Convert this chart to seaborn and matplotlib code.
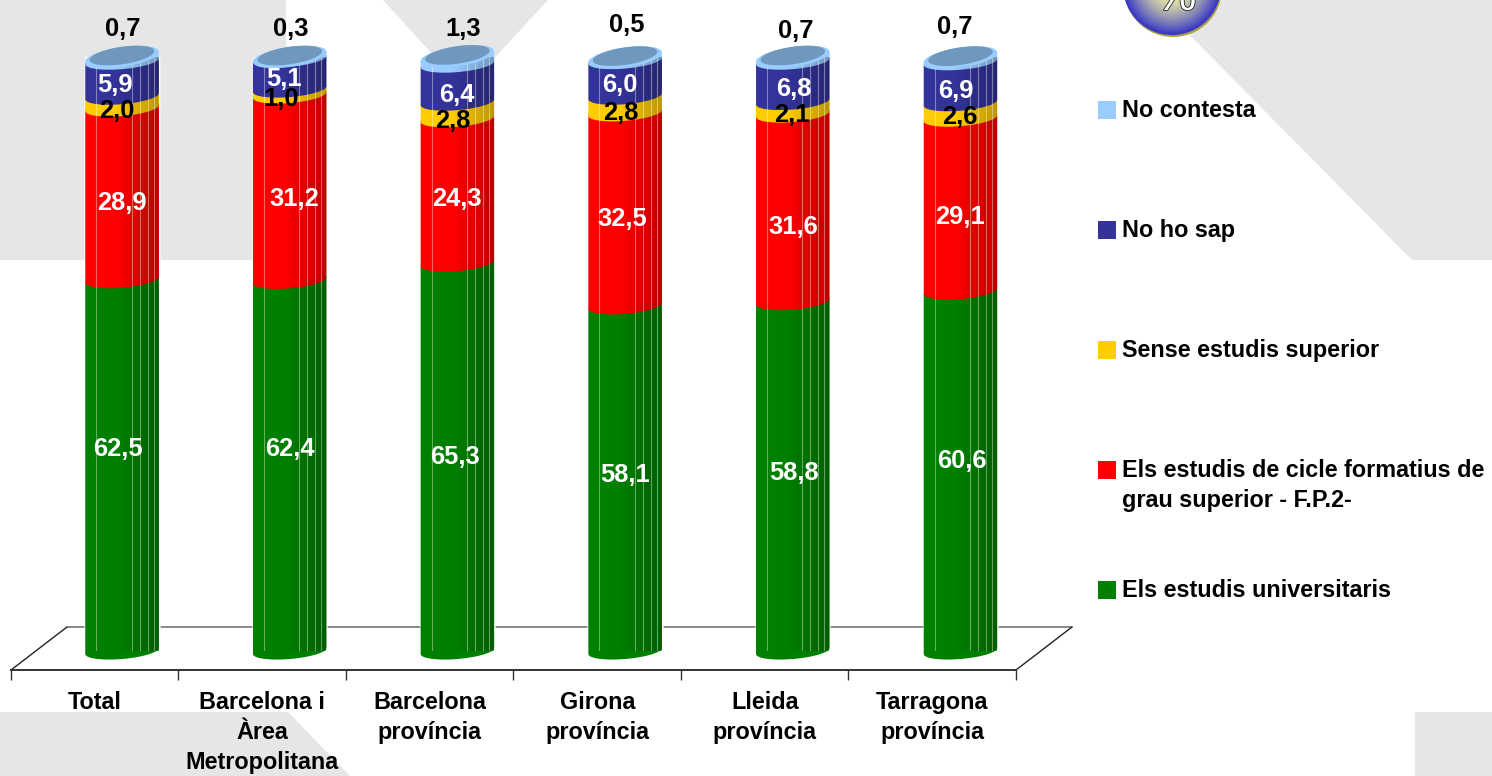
import numpy as np
import pandas as pd
import seaborn as sns
import matplotlib
matplotlib.use("Agg")
import matplotlib.pyplot as plt
import matplotlib.patheffects as pe
from matplotlib.patches import Polygon, Rectangle, Circle
from matplotlib.colors import to_rgb

categories = ["Total", "Barcelona i\nÀrea\nMetropolitana", "Barcelona\nprovíncia",
              "Girona\nprovíncia", "Lleida\nprovíncia", "Tarragona\nprovíncia"]
universitaris = [62.5, 62.4, 65.3, 58.1, 58.8, 60.6]
cicle_formatiu = [28.9, 31.2, 24.3, 32.5, 31.6, 29.1]
sense_estudis = [2.0, 1.0, 2.8, 2.8, 2.1, 2.6]
no_ho_sap = [5.9, 5.1, 6.4, 6.0, 6.8, 6.9]
no_contesta = [0.7, 0.3, 1.3, 0.5, 0.7, 0.7]
series_names = ["Els estudis universitaris",
                "Els estudis de cicle formatius de\ngrau superior - F.P.2-",
                "Sense estudis superior", "No ho sap", "No contesta"]
series_values = [universitaris, cicle_formatiu, sense_estudis, no_ho_sap, no_contesta]
series_colors = ["#008000", "#FF0000", "#FFCC00", "#333399", "#99CCFF"]

# hand-placed data label centres in the original (pixels)
label_xy = [
    [(118, 447), (290, 447), (455, 455), (625, 472), (794, 471), (962, 459)],
    [(122, 201), (294, 196), (457, 197), (622, 216), (793, 224), (960, 214)],
    [(117, 109), (281, 97), (453, 119), (621, 110), (792, 113), (960, 115)],
    [(115, 83), (284, 77), (457, 93), (620, 83), (794, 87), (956, 89)],
    [(123, 26), (291, 26), (463, 26), (627, 22), (796, 29), (955, 25)],
]
label_colors = ["white", "white", "black", "white", "black"]

W, H = 1492, 776
sns.set_theme(style="white")
plt.rcParams["font.family"] = ["Liberation Sans", "DejaVu Sans"]
plt.rcParams["font.weight"] = "bold"
fig = plt.figure(figsize=(W / 100, H / 100), dpi=100, facecolor="white")


def axes_px(left, top, right, bottom, z):
    a = fig.add_axes([left / W, 1 - bottom / H, (right - left) / W, (bottom - top) / H], zorder=z)
    a.patch.set_visible(False)
    return a


# ---- page background and floor (pixel canvas)
bg = axes_px(0, 0, W, H, 0)
bg.set_xlim(0, W)
bg.set_ylim(H, 0)
bg.axis("off")
GRAY = "#E6E6E6"
for poly in ([(0, 0), (286, 0), (286, 260), (0, 260)],
             [(383, 0), (548, 0), (465, 90)],
             [(1155, 0), (W, 0), (W, 260), (1412, 260)],
             [(0, 712), (288, 712), (350, H), (0, H)],
             [(1415, 712), (W, 712), (W, H), (1415, H)]):
    bg.add_patch(Polygon(poly, closed=True, fc=GRAY, ec="none"))
bg.plot([67, 1072], [627, 627], color="#808080", lw=1.3)
bg.plot([11, 67], [670, 627], color="#222222", lw=1)
bg.plot([1016, 1072], [670, 627], color="#222222", lw=1)

# ---- category axis
axf = axes_px(11, 640, 1016, 670, 1)
axf.set_xlim(0, 6)
axf.set_ylim(0, 1)
axf.set_yticks([])
for s in ["top", "left", "right"]:
    axf.spines[s].set_visible(False)
axf.spines["bottom"].set_color("#333333")
axf.spines["bottom"].set_linewidth(1.4)
axf.set_xticks(range(7))
axf.set_xticklabels([])
axf.tick_params(axis="x", which="major", length=7.5, width=1, color="#333333", bottom=True)
axf.set_xticks(np.arange(6) + 0.5, categories, minor=True)
axf.tick_params(axis="x", which="minor", length=0, pad=15, labelsize=16.8)
for t in axf.get_xticklabels(minor=True):
    t.set_fontweight("bold")
    t.set_color("black")
    t.set_linespacing(1.4)

# ---- stacked columns
PX_BASE, PX_TOP = 651, 57
ax = axes_px(38.15, PX_TOP, 1044.3, PX_BASE, 2)
PPU = (PX_BASE - PX_TOP) / 100
cum = np.cumsum(np.array(series_values), axis=0)
df = pd.DataFrame([{"cat": c, "serie": n, "cum": cum[i, j]}
                   for i, n in enumerate(series_names) for j, c in enumerate(categories)])
BAR_W = 0.438
sns.barplot(data=df, x="cat", y="cum", hue="serie", order=categories,
            hue_order=series_names[::-1], palette=dict(zip(series_names, series_colors)),
            dodge=False, width=BAR_W, saturation=1, legend=False, ax=ax)
ax.set_xlim(-0.5, 5.5)
ax.set_ylim(0, 100)
ax.axis("off")


def ellipse(xc, yc, b=8.0, c=3.0, scale=1.0, t0=0.0, t1=2 * np.pi):
    t = np.linspace(t0, t1, 80)
    x = xc + scale * BAR_W / 2 * np.cos(t)
    y = yc + scale * (b * np.sin(t) + c * np.cos(t)) / PPU
    return np.column_stack([x, y])


TOP = dict(b=10.0, c=5.0)
shade = np.zeros((2, 256, 4))
shade[..., 3] = np.clip((np.linspace(0, 1, 256) - 0.42) / 0.58, 0, 1) * 0.27
stripes = [0.15, 0.63, 0.74, 0.85, 0.93]

for j in range(len(categories)):
    lows = np.concatenate([[0], cum[:-1, j]])
    for i in range(len(series_names)):
        # curved side of each stacked segment, bottom to top
        upper = TOP if i == len(series_names) - 1 else {}
        side = np.vstack([ellipse(j, lows[i], t0=np.pi, t1=2 * np.pi),
                          ellipse(j, cum[i, j], t0=0, t1=np.pi, **upper)])
        ax.add_patch(Polygon(side, closed=True, fc=series_colors[i], ec="none",
                             zorder=2 + 0.1 * i, clip_on=False))
    top = cum[-1, j]
    sil = np.vstack([ellipse(j, 0, t0=np.pi, t1=2 * np.pi), ellipse(j, top, t0=0, t1=np.pi, **TOP)])
    clip = Polygon(sil, closed=True, transform=ax.transData)
    im = ax.imshow(shade, extent=(j - BAR_W / 2, j + BAR_W / 2, -5, 105), aspect="auto", zorder=3)
    im.set_clip_path(clip)
    for f in stripes:
        xs = j - BAR_W / 2 + f * BAR_W
        ln = ax.plot([xs, xs], [-5, 105], color="white", alpha=0.4, lw=0.8, zorder=3.1)[0]
        ln.set_clip_path(clip)
    # top cap
    ax.add_patch(Polygon(ellipse(j, top, **TOP), closed=True, fc="#99CCFF", ec="none", zorder=4, clip_on=False))
    ax.add_patch(Polygon(ellipse(j, top + 0.25, scale=0.88, **TOP), closed=True, fc="#7098BC",
                         ec="none", zorder=4.1, clip_on=False))
ax.set_xlim(-0.5, 5.5)
ax.set_ylim(0, 100)

# ---- overlay: data labels, legend, badge
ov = axes_px(0, 0, W, H, 3)
ov.set_xlim(0, W)
ov.set_ylim(H, 0)
ov.axis("off")
for i, vals in enumerate(series_values):
    for j, v in enumerate(vals):
        x, y = label_xy[i][j]
        ov.text(x, y, f"{v:.1f}".replace(".", ","), ha="center", va="center_baseline",
                fontsize=18.4, fontweight="bold", color=label_colors[i])

legend_rows = [108, 228, 348, 468, 588]
for name, col, y in zip(series_names[::-1], series_colors[::-1], legend_rows):
    ov.add_patch(Rectangle((1098, y - 7), 18, 18, fc=col, ec="none"))
    for k, line in enumerate(name.split("\n")):
        ov.text(1122, y + 30 * k, line, ha="left", va="center_baseline", fontsize=16.8,
                fontweight="bold", color="black")

cx, cy, r = 1172, -14, 49
ov.add_patch(Circle((cx + 1, cy + 2), r, fc="#A8A040", ec="none"))
c_out, c_in = np.array(to_rgb("#3535C8")), np.array(to_rgb("#FFFFA0"))
for k in np.linspace(1, 0.02, 40):
    ov.add_patch(Circle((cx, cy), r * k, fc=tuple(c_in + (c_out - c_in) * k ** 1.6), ec="none"))
ov.text(1176, -2, "%", ha="center", va="center", fontsize=33, fontweight="normal", color="white",
        path_effects=[pe.withStroke(linewidth=1.2, foreground="#222222")])

fig.savefig("out.png", dpi=100)
